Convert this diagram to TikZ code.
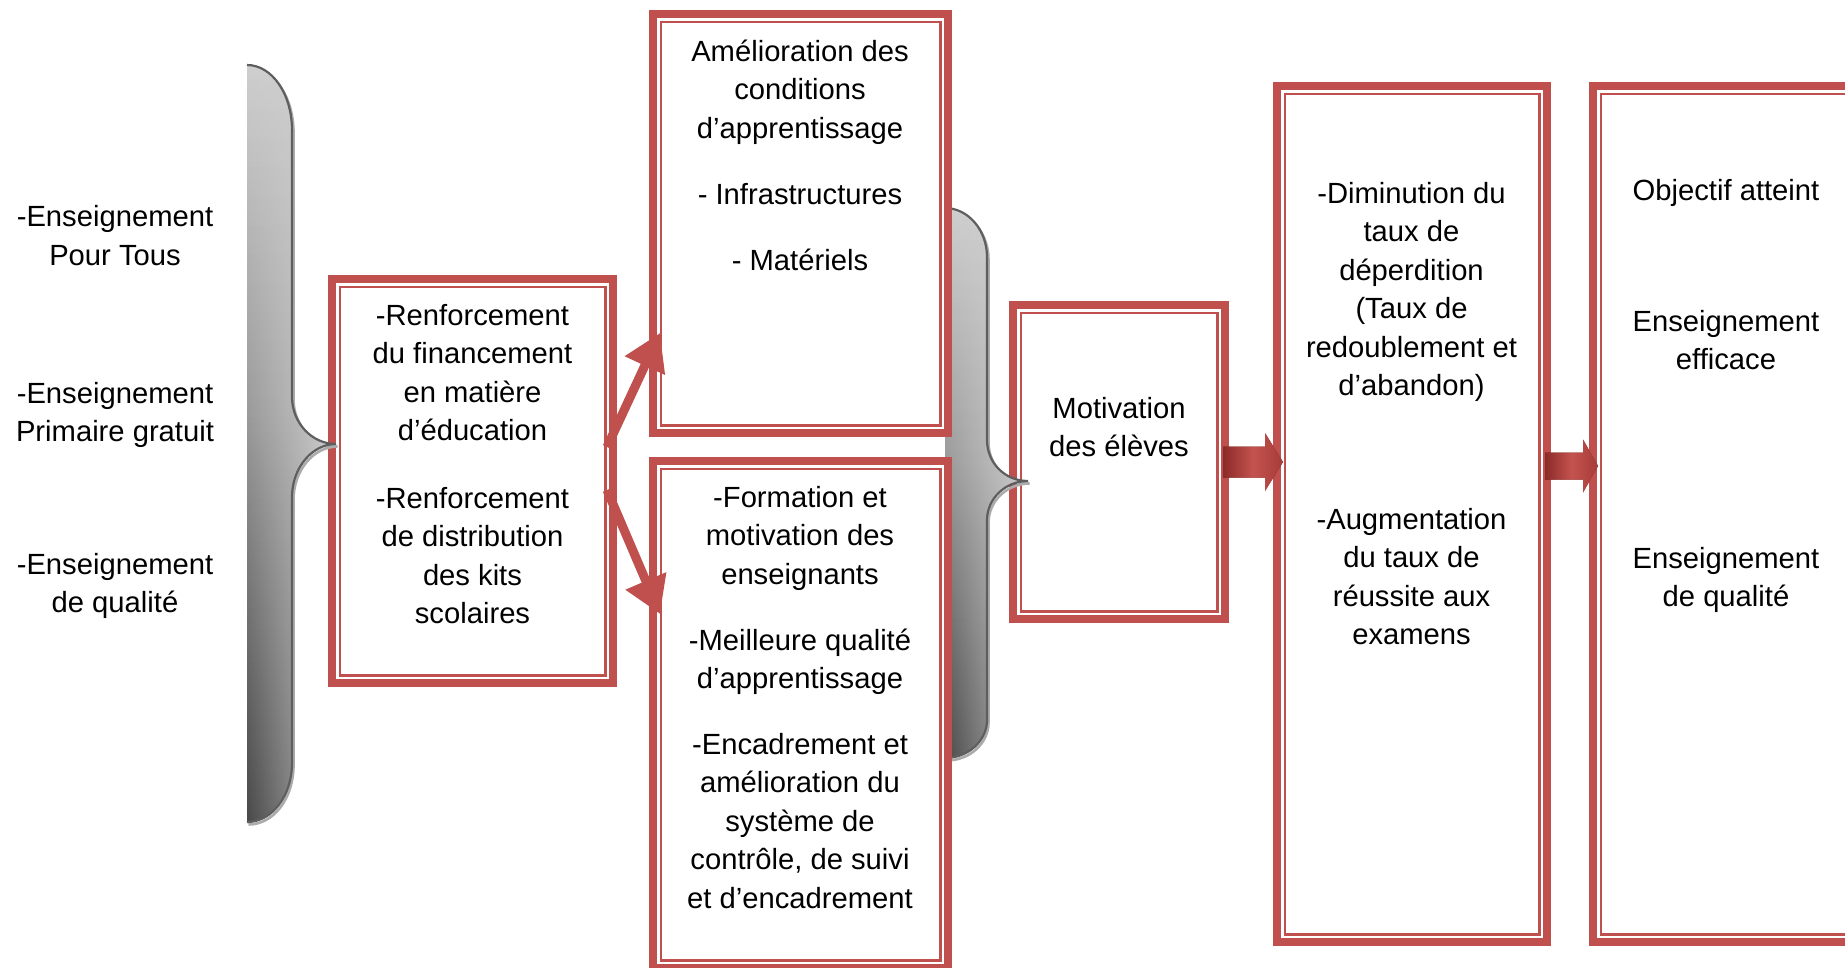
\documentclass[tikz,border=0pt]{standalone}
\usepackage{fontspec}
\setmainfont{Liberation Sans}
\usetikzlibrary{arrows.meta,calc,fadings}

\definecolor{accred}{HTML}{C0504D}
\definecolor{arrdark}{HTML}{8B2A28}
\definecolor{arrmid}{HTML}{C4534F}
\definecolor{arrright}{HTML}{A63B38}
\definecolor{arrshadow}{HTML}{6D2220}
\definecolor{braceedge}{HTML}{5E5E5E}
\definecolor{braceshadow}{HTML}{ABABAB}
\definecolor{gtop}{HTML}{CFCFCF}
\definecolor{gmid}{HTML}{C3C3C3}
\definecolor{glow}{HTML}{A4A4A4}
\definecolor{gbot}{HTML}{868686}

% grey fill of the curly braces, light at the top, dark at the bottom
\pgfdeclareverticalshading{bracegray}{100bp}{color(0bp)=(gbot); color(25bp)=(gbot); color(37bp)=(glow); color(52bp)=(gmid); color(75bp)=(gtop); color(100bp)=(gtop)}
% fading that only lets the lower part of a brace through
\tikzfading[name=lowerfade, top color=transparent!100, middle color=transparent!100, bottom color=transparent!0]

% framed box: thick outer band plus thin inner line
\newcommand\dbox[5]{%
  \node[frame, minimum width={#4-#2-8}, minimum height={#5-#3-8}] (#1) at ({(#2+#4)/2},{(#3+#5)/2}) {};
  \draw[innerline] ([shift={(7.75,7.75)}]#1.north west) rectangle ([shift={(-7.75,-7.75)}]#1.south east);
}

% paragraph placed by the baseline of its first line
\newcommand\para[4]{\node[txt] (#1) at (#2,{#3-26.95}) {\strut #4};}

% horizontal block arrow: style, start, tip, shaft half-height, head half-height, head length
\newcommand\blockarrow[6]{%
  \path[#1] let \p1=(#2), \p2=(#3) in
    (\x1,\y2+#4pt) -- (\x2-#6pt,\y2+#4pt) -- (\x2-#6pt,\y2+#5pt) -- (\x2,\y2)
    -- (\x2-#6pt,\y2-#5pt) -- (\x2-#6pt,\y2-#4pt) -- (\x1,\y2-#4pt) -- cycle;}

% right-facing curly braces (open paths along the curved side)
\newcommand\braceone[1]{%
  \path[#1] (247,65) .. controls (272,65) and (292,94) .. (292,130)
    -- (292,397) .. controls (292,423) and (312,444) .. (336,444)
    .. controls (312,444) and (292,468) .. (292,497)
    -- (292,763) .. controls (292,796) and (272,822) .. (247,822);}
\newcommand\bracetwo[1]{%
  \path[#1] (945,208) .. controls (968,208) and (987,230) .. (987,257)
    -- (987,440) .. controls (987,463) and (1005,481) .. (1028,481)
    .. controls (1005,481) and (987,499) .. (987,520)
    -- (987,720) .. controls (987,741) and (968,758) .. (945,758);}

\begin{document}
\begin{tikzpicture}[x=1pt, y=-1pt,
  frame/.style={draw=accred, line width=8pt, fill=white, outer sep=0pt, inner sep=0pt},
  innerline/.style={draw=accred, line width=2.5pt},
  txt/.style={font=\fontsize{29.2}{38.5}\selectfont, align=center, inner sep=0pt, anchor=north},
  conn/.style={draw=accred, line width=9pt, -{Triangle[length=36pt,width=42pt]}},
  braceshade/.style={shade, shading=bracegray},
  bracetint/.style={left color=black, right color=white, opacity=0.45, path fading=lowerfade},
  braceline/.style={draw=braceedge, line width=2.2pt},
  braceshd/.style={draw=braceshadow, line width=2.6pt, shift={(1.5,2.5)}},
  arrowbody/.style={left color=arrdark, right color=arrright, middle color=arrmid},
  arrowshd/.style={fill=arrshadow, shift={(2,5)}}
]
\useasboundingbox (0,0) rectangle (1845,967);
\fill[white] (0,0) rectangle (1845,967);
\clip (0,0) rectangle (1845,967);

% first column of boxes
\dbox{b1}{328}{275}{617}{687}
\dbox{b4}{1009}{301}{1229}{623}

% left brace
\braceone{braceshd}
\braceone{braceshade}
\braceone{bracetint}
\braceone{braceline}

% links from the funding box
\coordinate (c1s) at ($(b1.east)+(-6,-34)$);
\coordinate (c2s) at ($(b1.east)+(-6,9)$);

% second brace
\bracetwo{braceshd}
\bracetwo{braceshade}
\bracetwo{bracetint}
\bracetwo{braceline}

\dbox{b2}{649}{10}{952}{437}
\dbox{b3}{649}{457}{952}{972}
\coordinate (c1t) at ($(b2.south west)+(7,-100)$);
\coordinate (c2t) at ($(b3.north west)+(7,153)$);
\draw[conn] (c1s) -- (c1t);
\draw[conn] (c2s) -- (c2t);
% redraw the borders of the target boxes over the arrow tips
\draw[accred, line width=8pt] ($(b2.south west)+(0,4)$) -- ($(b2.north west)+(0,-4)$);
\draw[innerline] ([shift={(7.75,7.75)}]b2.north west) -- ([shift={(7.75,-7.75)}]b2.south west);
\draw[accred, line width=8pt] ($(b3.north west)+(0,-4)$) -- ($(b3.south west)+(0,4)$);
\draw[innerline] ([shift={(7.75,7.75)}]b3.north west) -- ([shift={(7.75,-7.75)}]b3.south west);

\dbox{b5}{1273}{82}{1551}{946}
\dbox{b6}{1589}{82}{1865}{946}

% block arrows
\coordinate (a1s) at ($(b4.east)+(-2,0)$);
\coordinate (a1t) at ($(b5.west)+(6,-52)$);
\coordinate (a2s) at ($(b5.east)+(-2,-48)$);
\coordinate (a2t) at ($(b6.west)+(5,-48)$);
\blockarrow{arrowshd}{a1s}{a1t}{15.5}{29}{18}
\blockarrow{arrowbody}{a1s}{a1t}{15.5}{29}{18}
\blockarrow{arrowshd}{a2s}{a2t}{13.5}{26.5}{15}
\blockarrow{arrowbody}{a2s}{a2t}{13.5}{26.5}{15}

% texts
\para{tl1}{115}{226.5}{-Enseignement\\Pour Tous}
\para{tl2}{115}{403}{-Enseignement\\Primaire gratuit}
\para{tl3}{115}{574}{-Enseignement\\de qualité}
\para{t1a}{472.5}{325}{-Renforcement\\du financement\\en matière\\d’éducation}
\para{t1b}{472.5}{508}{-Renforcement\\de distribution\\des kits\\scolaires}
\para{t2a}{800}{61}{Amélioration des\\conditions\\d’apprentissage}
\para{t2b}{800}{204}{- Infrastructures}
\para{t2c}{800}{270}{- Matériels}
\para{t3a}{800}{507}{-Formation et\\motivation des\\enseignants}
\para{t3b}{800}{650}{-Meilleure qualité\\d’apprentissage}
\para{t3c}{800}{754}{-Encadrement et\\amélioration du\\système de\\contrôle, de suivi\\et d’encadrement}
\para{t4}{1119}{418}{Motivation\\des élèves}
\para{t5a}{1411.5}{203}{-Diminution du\\taux de\\déperdition\\(Taux de\\redoublement et\\d’abandon)}
\para{t5b}{1411.5}{529}{-Augmentation\\du taux de\\réussite aux\\examens}
\para{t6a}{1726}{200}{Objectif atteint}
\para{t6b}{1726}{331}{Enseignement\\efficace}
\para{t6c}{1726}{568}{Enseignement\\de qualité}
\end{tikzpicture}
\end{document}
